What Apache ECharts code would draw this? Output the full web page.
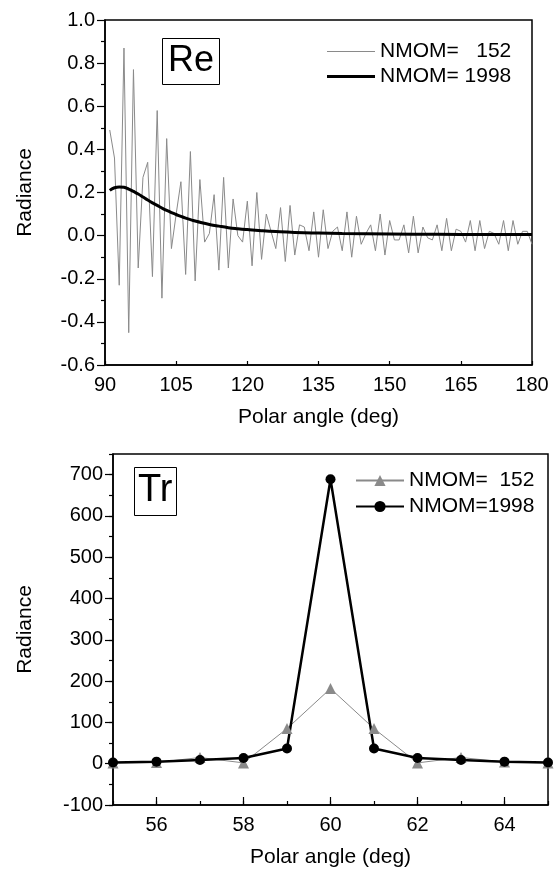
<!DOCTYPE html>
<html>
<head>
<meta charset="utf-8">
<script src="https://cdn.jsdelivr.net/npm/echarts@6/dist/echarts.min.js"></script>
<style>
  html, body { margin: 0; padding: 0; background: #fff; }
  #chart { width: 554px; height: 871px; }
</style>
</head>
<body>
<div id="chart"></div>
<script>
//top panel (Re) - polar angles and radiance for NMOM=152
const reAngles = [91, 92, 93, 94, 95, 96, 97, 98, 99, 100,
    101, 102, 103, 104, 105, 106, 107, 108, 109, 110,
    111, 112, 113, 114, 115, 116, 117, 118, 119, 120,
    121, 122, 123, 124, 125, 126, 127, 128, 129, 130,
    131, 132, 133, 134, 135, 136, 137, 138, 139, 140,
    141, 142, 143, 144, 145, 146, 147, 148, 149, 150,
    151, 152, 153, 154, 155, 156, 157, 158, 159, 160,
    161, 162, 163, 164, 165, 166, 167, 168, 169, 170,
    171, 172, 173, 174, 175, 176, 177, 178, 179, 180];
const re152 = [0.49, 0.36, -0.23, 0.87, -0.45, 0.77, -0.15, 0.27, 0.34, -0.19,
    0.58, -0.29, 0.45, -0.06, 0.10, 0.25, -0.18, 0.39, -0.21, 0.26,
    -0.03, 0.01, 0.19, -0.16, 0.27, -0.15, 0.17, 0.00, -0.03, 0.16,
    -0.14, 0.20, -0.11, 0.10, 0.02, -0.06, 0.13, -0.12, 0.14, -0.09,
    0.05, 0.04, -0.07, 0.11, -0.10, 0.12, -0.06, 0.02, 0.04, -0.07,
    0.11, -0.10, 0.09, -0.04, 0.01, 0.05, -0.07, 0.10, -0.09, 0.07,
    -0.02, -0.02, 0.05, -0.08, 0.09, -0.08, 0.04, -0.01, -0.02, 0.05,
    -0.07, 0.08, -0.07, 0.03, 0.02, -0.03, 0.07, -0.07, 0.07, -0.06,
    0.02, 0.01, -0.04, 0.07, -0.07, 0.07, -0.04, 0.02, 0.02, -0.04];

//top panel (Re) - NMOM=1998 smooth curve
const reAngles1998 = [91, 92, 93, 94, 95, 96, 97, 98, 99, 100,
    101, 102, 103, 104, 105, 106, 107, 108, 109, 110,
    112, 114, 116, 118, 120, 123, 126, 130, 135, 140,
    150, 160, 170, 180];
const re1998 = [0.210, 0.222, 0.226, 0.224, 0.216, 0.205, 0.193, 0.179, 0.165, 0.152,
    0.140, 0.128, 0.117, 0.107, 0.098, 0.089, 0.081, 0.074, 0.068, 0.062,
    0.052, 0.044, 0.037, 0.032, 0.028, 0.023, 0.019, 0.015, 0.012, 0.010,
    0.008, 0.006, 0.005, 0.005];

//bottom panel (Tr)
const trAngles = [55, 56, 57, 58, 59, 60, 61, 62, 63, 64, 65];
const tr152 = [2, 3, 15, 2, 85, 182, 85, 2, 15, 4, 2];
const tr1998 = [3, 5, 9, 14, 37, 689, 37, 14, 9, 5, 3];

//series names / legend labels
const reNames = ["NMOM=   152", "NMOM= 1998"];
const trNames = ["NMOM=  152", "NMOM=1998"];

const font = "Liberation Sans, Arial, sans-serif";
const gray = "#8a8a8a";
const pairs = (xs, ys) => xs.map((x, i) => [x, ys[i]]);

const axisLine = { onZero: false, lineStyle: { color: "#000", width: 1.5 } };
const tickLine = { color: "#000", width: 1.2 };
const labelStyle = { color: "#000", fontSize: 20, fontFamily: font };
const nameStyle = { color: "#000", fontSize: 21, fontFamily: font };
const legendText = { fontSize: 21, fontFamily: font, color: "#000" };

const chart = echarts.init(document.getElementById("chart"));
const option = {
    animation: false,
    backgroundColor: "#fff",
    title: [
        {
            text: "Re", left: 162, top: 38,
            padding: [5, 6, 6, 6],
            borderColor: "#000", borderWidth: 1,
            textStyle: { fontSize: 36, fontWeight: "normal", fontFamily: font, color: "#000", lineHeight: 36 }
        },
        {
            text: "Tr", left: 134, top: 468,
            padding: [5, 4, 6, 4],
            borderColor: "#000", borderWidth: 1,
            textStyle: { fontSize: 38, fontWeight: "normal", fontFamily: font, color: "#000", lineHeight: 36 }
        }
    ],
    legend: [
        //top panel: plain line samples, one legend per line width
        {
            data: [reNames[0]], left: 322, top: 36,
            icon: "rect", itemWidth: 48, itemHeight: 1.2,
            textStyle: legendText
        },
        {
            data: [reNames[1]], left: 322, top: 61,
            icon: "rect", itemWidth: 48, itemHeight: 3,
            textStyle: legendText
        },
        {
            data: trNames, orient: "vertical", left: 350, top: 465,
            itemWidth: 48, itemHeight: 14, itemGap: 5,
            textStyle: legendText
        }
    ],
    grid: [
        { left: 105, right: 22, top: 20, height: 345, show: true, borderColor: "#000", borderWidth: 1.5 },
        { left: 113, right: 6, top: 454, height: 351, show: true, borderColor: "#000", borderWidth: 1.5 }
    ],
    xAxis: [
        {
            type: "value", gridIndex: 0, position: "bottom", min: 90, max: 180, interval: 15,
            name: "Polar angle (deg)", nameLocation: "middle", nameGap: 42, nameTextStyle: nameStyle,
            axisLine: axisLine,
            axisTick: { inside: true, length: 4, lineStyle: tickLine },
            axisLabel: Object.assign({ margin: 10 }, labelStyle),
            splitLine: { show: false }
        },
        {
            type: "value", gridIndex: 1, position: "bottom", min: 55, max: 65, interval: 1,
            name: "Polar angle (deg)", nameLocation: "middle", nameGap: 42, nameTextStyle: nameStyle,
            axisLine: axisLine,
            axisTick: { inside: true, length: 4, lineStyle: tickLine },
            axisLabel: Object.assign({ margin: 10, formatter: v => (v % 2 === 0 ? String(v) : "") }, labelStyle),
            splitLine: { show: false }
        },
        {
            //long ticks at the labelled (even) angles
            type: "value", gridIndex: 1, position: "bottom", min: 55, max: 65,
            axisLine: { show: false, onZero: false },
            axisTick: { inside: true, length: 8, customValues: [56, 58, 60, 62, 64], lineStyle: tickLine },
            axisLabel: { show: false },
            splitLine: { show: false }
        }
    ],
    yAxis: [
        {
            type: "value", gridIndex: 0, position: "left", min: -0.6, max: 1.0, interval: 0.2,
            name: "Radiance", nameLocation: "middle", nameGap: 69, nameTextStyle: nameStyle,
            axisLine: axisLine,
            axisTick: { length: 8, lineStyle: tickLine },
            minorTick: { show: true, splitNumber: 2, length: 4, lineStyle: tickLine },
            axisLabel: Object.assign({ margin: 10, formatter: v => v.toFixed(1) }, labelStyle),
            splitLine: { show: false }
        },
        {
            type: "value", gridIndex: 1, position: "left", min: -100, max: 750, interval: 100,
            name: "Radiance", nameLocation: "middle", nameGap: 77, nameTextStyle: nameStyle,
            axisLine: axisLine,
            axisTick: { length: 8, lineStyle: tickLine },
            axisLabel: Object.assign({ margin: 10, showMaxLabel: false, formatter: v => (v > 700 ? "" : String(v)) }, labelStyle),
            splitLine: { show: false }
        },
        {
            //minor ticks every 50
            type: "value", gridIndex: 1, position: "left", offset: 0, min: -100, max: 750, interval: 50,
            axisLine: { show: false, onZero: false },
            axisTick: { length: 4, lineStyle: tickLine },
            axisLabel: { show: false },
            splitLine: { show: false }
        }
    ],
    series: [
        {
            name: reNames[0], type: "line", xAxisIndex: 0, yAxisIndex: 0,
            data: pairs(reAngles, re152), symbol: "none",
            color: gray, lineStyle: { color: gray, width: 1 }
        },
        {
            name: reNames[1], type: "line", xAxisIndex: 0, yAxisIndex: 0,
            data: pairs(reAngles1998, re1998), symbol: "none", smooth: true,
            color: "#000", lineStyle: { color: "#000", width: 3 }
        },
        {
            name: trNames[0], type: "line", xAxisIndex: 1, yAxisIndex: 1,
            data: pairs(trAngles, tr152), symbol: "triangle", symbolSize: 11,
            color: gray, itemStyle: { color: gray }, lineStyle: { color: gray, width: 1 }
        },
        {
            name: trNames[1], type: "line", xAxisIndex: 1, yAxisIndex: 1,
            data: pairs(trAngles, tr1998), symbol: "circle", symbolSize: 10,
            color: "#000", itemStyle: { color: "#000" }, lineStyle: { color: "#000", width: 2.5 }
        }
    ]
};
chart.setOption(option);
</script>
</body>
</html>
